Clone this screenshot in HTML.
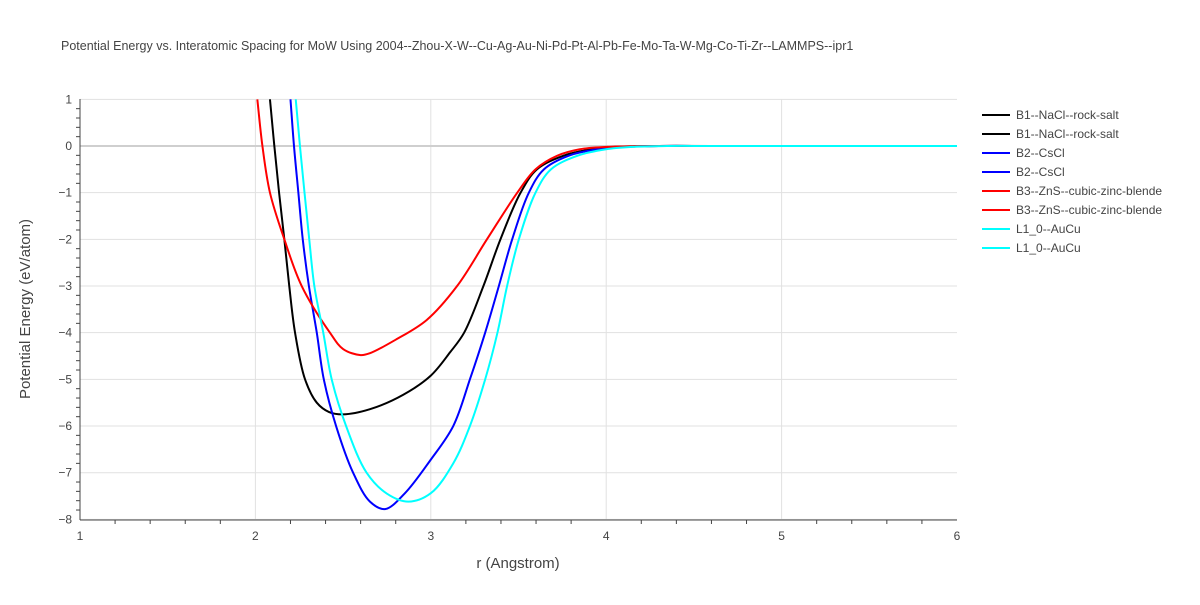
<!DOCTYPE html>
<html><head><meta charset="utf-8"><style>
body{margin:0;background:#fff;font-family:"Liberation Sans",Arial,sans-serif}
</style></head><body>
<svg id="chart" width="1200" height="600" xmlns="http://www.w3.org/2000/svg">
<defs><clipPath id="clip"><rect x="80" y="99" width="877" height="421"/></clipPath></defs>
<text x="61" y="50" font-size="12.5" fill="#444">Potential Energy vs. Interatomic Spacing for MoW Using 2004--Zhou-X-W--Cu-Ag-Au-Ni-Pd-Pt-Al-Pb-Fe-Mo-Ta-W-Mg-Co-Ti-Zr--LAMMPS--ipr1</text>
<g id="grid"></g><g id="axes"></g><g id="series" clip-path="url(#clip)"></g><g id="legend"></g>
<text x="518" y="568" font-size="15" fill="#444" text-anchor="middle">r (Angstrom)</text>
<text transform="translate(30,309) rotate(-90)" font-size="15" fill="#444" text-anchor="middle">Potential Energy (eV/atom)</text>
</svg>
<script>
const xTicks=[1,2,3,4,5,6];
const yTicks=[1,0,-1,-2,-3,-4,-5,-6,-7,-8];
const seriesNames=["B1--NaCl--rock-salt","B2--CsCl","B3--ZnS--cubic-zinc-blende","L1_0--AuCu"];
const seriesColors=["#000000","#0000ff","#ff0000","#00ffff"];
const b1R=[2.083,2.108,2.135,2.165,2.193,2.226,2.283,2.35,2.42,2.5,2.653,2.843,3.0,3.11,3.19,3.30,3.397,3.512,3.605,3.755,3.9,4.05,4.3,4.6,5,5.5,6];
const b1E=[1,0,-1,-2,-3,-4,-5,-5.5,-5.7,-5.75,-5.64,-5.33,-4.92,-4.42,-4,-3,-2,-1,-0.5,-0.21,-0.08,-0.02,0,0,0,0,0];
const b2R=[2.2,2.22,2.245,2.27,2.305,2.35,2.39,2.46,2.557,2.653,2.739,2.85,3.0,3.128,3.223,3.31,3.388,3.464,3.559,3.645,3.785,3.95,4.1,4.3,4.6,5,5.5,6];
const b2E=[1,0,-1,-2,-3,-4,-5,-6,-7,-7.62,-7.78,-7.45,-6.72,-6,-5,-4,-3,-2,-1,-0.5,-0.21,-0.07,-0.02,0,0,0,0,0];
const b3R=[2.011,2.04,2.083,2.165,2.264,2.425,2.5,2.6,2.653,2.8,2.976,3.15,3.32,3.493,3.597,3.72,3.85,4.0,4.3,4.6,5,5.5,6];
const b3E=[1,0,-1,-2,-3,-4,-4.35,-4.48,-4.44,-4.15,-3.73,-3,-2,-1,-0.5,-0.21,-0.07,-0.02,0,0,0,0,0];
const l10R=[2.23,2.254,2.28,2.307,2.336,2.387,2.435,2.517,2.634,2.75,2.872,3.0,3.128,3.223,3.31,3.38,3.435,3.502,3.597,3.685,3.835,4.0,4.15,4.35,4.6,5,5.5,6];
const l10E=[1,0,-1,-2,-3,-4,-5,-6,-7,-7.45,-7.62,-7.44,-6.8,-6,-5,-4,-3,-2,-1,-0.5,-0.21,-0.07,-0.02,0,0,0,0,0];
const xs=r=>80+(r-1)*175.4;
const ys=e=>146-e*46.67;
const NS="http://www.w3.org/2000/svg";
function mk(tag,attrs,parent){const el=document.createElementNS(NS,tag);for(const k in attrs)el.setAttribute(k,attrs[k]);parent.appendChild(el);return el;}
const grid=document.getElementById('grid'),axes=document.getElementById('axes');
xTicks.forEach(t=>{
 if(t>1&&t<6){const l=mk('line',{x1:xs(t),x2:xs(t),y1:99,y2:520,stroke:'#e1e1e1'},grid);
 
 }
 const tx=mk('text',{x:xs(t),y:540,'font-size':12,fill:'#444','text-anchor':'middle'},axes);tx.textContent=t;
 
 
});
for(let r=1.2;r<6;r+=0.2){if(Math.abs(r-Math.round(r))<0.01)continue;mk('line',{x1:xs(r),x2:xs(r),y1:520,y2:524,stroke:'#444'},axes);}
yTicks.forEach(t=>{
 const l=mk('line',{x1:80,x2:957,y1:ys(t),y2:ys(t),stroke:t===0?'#cfcfcf':'#e1e1e1','stroke-width':t===0?2:1},grid);
 
 
 const tx=mk('text',{x:72,y:ys(t)+4,'font-size':12,fill:'#444','text-anchor':'end'},axes);tx.textContent=t===0?'0':(t<0?'−'+(-t):t);
 
 
});
for(let e=0.8;e>-8;e-=0.2){if(Math.abs(e-Math.round(e))<0.01)continue;mk('line',{x1:76,x2:80,y1:ys(e),y2:ys(e),stroke:'#444'},axes);}
mk('line',{x1:80,x2:80,y1:99,y2:520,stroke:'#444'},axes);
mk('line',{x1:80,x2:957,y1:520,y2:520,stroke:'#444'},axes);
// centripetal Catmull-Rom in pixel space
function pathFor(R,E){
 const p=R.map((r,i)=>[xs(r),ys(E[i])]);const n=p.length;
 const dist=(a,b)=>Math.hypot(a[0]-b[0],a[1]-b[1]);
 let s='M'+p[0][0].toFixed(2)+','+p[0][1].toFixed(2);
 for(let i=0;i<n-1;i++){
  const p0=p[i-1],p1=p[i],p2=p[i+1],p3=p[i+2];
  const d2=Math.sqrt(dist(p1,p2));
  let c1=p1,c2=p2;
  if(p0){const d1=Math.sqrt(dist(p0,p1));const A=d1*d1,B=d2*d2,C=2*A+3*d1*d2+B,D=3*d1*(d1+d2);
   c1=[(A*p2[0]-B*p0[0]+C*p1[0])/D,(A*p2[1]-B*p0[1]+C*p1[1])/D];}
  else c1=[p1[0]+(p2[0]-p1[0])/3,p1[1]+(p2[1]-p1[1])/3];
  if(p3){const d3=Math.sqrt(dist(p2,p3));const A=d3*d3,B=d2*d2,C=2*A+3*d3*d2+B,D=3*d3*(d3+d2);
   c2=[(A*p1[0]-B*p3[0]+C*p2[0])/D,(A*p1[1]-B*p3[1]+C*p2[1])/D];}
  else c2=[p2[0]-(p2[0]-p1[0])/3,p2[1]-(p2[1]-p1[1])/3];
  s+=` C${c1[0].toFixed(2)},${c1[1].toFixed(2)} ${c2[0].toFixed(2)},${c2[1].toFixed(2)} ${p2[0].toFixed(2)},${p2[1].toFixed(2)}`;}
 return s;}
const data=[[b1R,b1E],[b2R,b2E],[b3R,b3E],[l10R,l10E]];
const ser=document.getElementById('series');
const drawOrder=[0,1,2,3];
drawOrder.forEach(i=>{
 const p=mk('path',{d:pathFor(data[i][0],data[i][1]),fill:'none',stroke:seriesColors[i],'stroke-width':2,'stroke-linejoin':'round'},ser);
 
 
});
const leg=document.getElementById('legend');
let k=0;
seriesNames.forEach((n,i)=>{for(let j=0;j<2;j++){const y=115+k*19;k++;
 const g=mk('g',{},leg);
 
 
 mk('line',{x1:982,x2:1010,y1:y,y2:y,stroke:seriesColors[i],'stroke-width':2},g);
 const t=mk('text',{x:1016,y:y+4,'font-size':12,fill:'#444'},g);t.textContent=n;}});
</script>
</body></html>
